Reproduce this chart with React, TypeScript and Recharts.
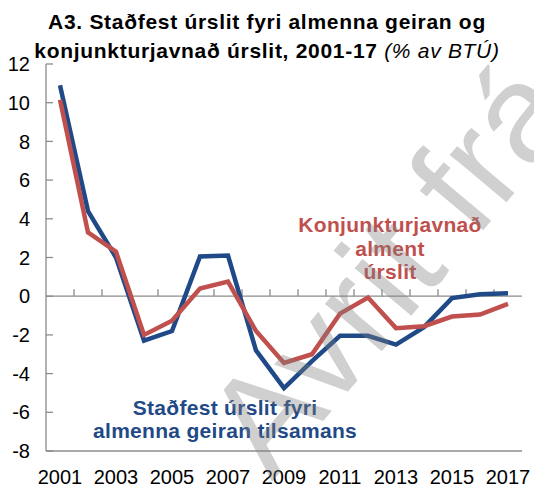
import React from 'react';
import { LineChart, Line, XAxis, YAxis, ReferenceLine } from 'recharts';

const years = ['2001', '2002', '2003', '2004', '2005', '2006', '2007', '2008', '2009', '2010', '2011', '2012', '2013', '2014', '2015', '2016', '2017'];
const stadfest = [10.9, 4.4, 2.0, -2.3, -1.8, 2.05, 2.1, -2.8, -4.75, -3.35, -2.05, -2.05, -2.5, -1.6, -0.1, 0.1, 0.15];
const konjunktur = [10.15, 3.3, 2.3, -2.0, -1.27, 0.4, 0.75, -1.8, -3.45, -3.0, -0.9, -0.07, -1.65, -1.55, -1.05, -0.95, -0.4];
const yTicks = [-8, -6, -4, -2, 0, 2, 4, 6, 8, 10, 12];

const BLUE = '#1f4a87';
const RED = '#c0504d';
const FRAME = '#8c8c8c';
const FONT = '"Liberation Sans", Arial, sans-serif';

const data = years.map((y, i) => ({ year: y, stadfest: stadfest[i], konjunktur: konjunktur[i] }));

// zero line with small category tick marks pointing up
const ZeroLine = (props: any) => {
  const { x1, x2, y1 } = props;
  const n = years.length;
  const step = (x2 - x1) / n;
  const marks = [];
  for (let i = 1; i < n; i++) {
    const x = x1 + step * i;
    marks.push(<line key={i} x1={x} x2={x} y1={y1} y2={y1 - 7} stroke={FRAME} strokeWidth={1.3} />);
  }
  return (
    <g>
      <line x1={x1} x2={x2} y1={y1} y2={y1} stroke={FRAME} strokeWidth={1.3} />
      {marks}
    </g>
  );
};

export default function App() {
  return (
    <div style={{ position: 'relative', width: 534, height: 489, background: '#fff', fontFamily: FONT }}>
      <style>{'body{margin:0}'}</style>
      <div style={{ position: 'absolute', top: 7, left: 0, width: 534, textAlign: 'center', fontWeight: 'bold', fontSize: 21, letterSpacing: 0.7, lineHeight: '29px', color: '#000' }}>
        A3. Staðfest úrslit fyri almenna geiran og
        <br />
        konjunkturjavnað úrslit, 2001-17 <span style={{ fontWeight: 'normal', fontStyle: 'italic' }}>(% av BTÚ)</span>
      </div>
      <LineChart width={534} height={489} data={data} margin={{ top: 64, right: 12, bottom: 8, left: 8 }}>
        <XAxis
          dataKey="year"
          scale="band"
          interval={1}
          tickLine={false}
          axisLine={{ stroke: FRAME, strokeWidth: 1.3 }}
          height={30}
          tickMargin={13}
          tick={{ fill: '#000', fontSize: 20, fontFamily: FONT }}
        />
        <XAxis xAxisId="top" dataKey="year" scale="band" orientation="top" height={0} tick={false} tickLine={false} axisLine={{ stroke: FRAME, strokeWidth: 1.3 }} />
        <YAxis
          domain={[-8, 12]}
          ticks={yTicks}
          width={38}
          tickSize={-7}
          tickMargin={23}
          tickLine={{ stroke: FRAME, strokeWidth: 1.3 }}
          axisLine={{ stroke: FRAME, strokeWidth: 1.3 }}
          tick={{ fill: '#000', fontSize: 20, fontFamily: FONT }}
          interval={0}
        />
        <YAxis yAxisId="r" orientation="right" domain={[-8, 12]} width={0} tick={false} tickLine={false} axisLine={{ stroke: FRAME, strokeWidth: 1.3 }} />
        <ReferenceLine y={0} shape={ZeroLine} />
        <Line dataKey="stadfest" stroke={BLUE} strokeWidth={4.5} dot={false} isAnimationActive={false} strokeLinejoin="miter" />
        <Line dataKey="konjunktur" stroke={RED} strokeWidth={4.5} dot={false} isAnimationActive={false} strokeLinejoin="miter" />
      </LineChart>
      <svg width={534} height={489} style={{ position: 'absolute', left: 0, top: 0, pointerEvents: 'none' }}>
        <g fontFamily={FONT} fontWeight="bold" fontSize={21} letterSpacing={0.3} textAnchor="middle">
          <text x={390} y={232} fill={RED}>Konjunkturjavnað</text>
          <text x={390} y={256} fill={RED}>alment</text>
          <text x={390} y={279} fill={RED}>úrslit</text>
          <text x={225} y={415} fill={BLUE}>Staðfest úrslit fyri</text>
          <text x={225} y={438} fill={BLUE}>almenna geiran tilsamans</text>
        </g>
        <text x={272} y={482} transform="rotate(-50 272 482)" fontFamily={FONT} fontSize={140} fill="#808080" fillOpacity={0.37}>Avrit frá</text>
      </svg>
    </div>
  );
}
